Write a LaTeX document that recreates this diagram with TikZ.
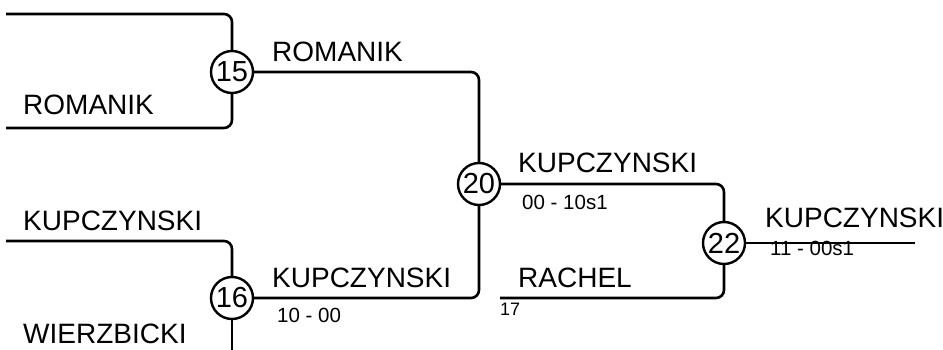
\documentclass[tikz,border=0pt]{standalone}
\usepackage{fontspec}
\setmainfont{Liberation Sans}
\tikzset{>=latex}
\tikzstyle{bline}=[line width=2.6pt,rounded corners=8pt]
\tikzstyle{mcircle}=[draw,circle,line width=2.4pt,minimum size=42pt,inner sep=0pt,font=\fontsize{29}{29}\selectfont]
\tikzstyle{player}=[anchor=base west,inner sep=0pt,font=\fontsize{28}{32}\selectfont]
\tikzstyle{result}=[anchor=base west,inner sep=0pt,font=\fontsize{20.5}{24}\selectfont]
\def\xa{232} % first round
\def\xb{479} % second round
\def\xc{724} % final

\begin{document}
\begin{tikzpicture}[x=1pt,y=-1pt]
  \useasboundingbox (0,0) rectangle (943,350);
  % matches
  \node[mcircle] (m15) at (\xa,72) {15};
  \node[mcircle] (m16) at (\xa,298) {16};
  \node[mcircle] (m20) at (\xb,184) {20};
  \node[mcircle] (m22) at (\xc,243) {22};
  % free ends
  \coordinate (e15a) at (6,14);
  \coordinate (e15b) at (6,128);
  \coordinate (e16a) at (6,241);
  \coordinate (e16b) at (\xa,352);
  \coordinate (e17) at (500,298);
  \coordinate (e22) at (915,243);
  % lines
  \draw[bline] (e15a) -| (m15);
  \draw[bline] (e15b) -| (m15);
  \draw[bline] (e16a) -| (m16);
  \draw[bline] (m16) -- (e16b);
  \draw[bline] (m15) -| (m20);
  \draw[bline] (m16) -| (m20);
  \draw[bline] (m20) -| (m22);
  \draw[bline] (e17) -| (m22);
  \draw[bline] (m22) -- (e22);
  % players
  \node[player] (p15a) at (272,62) {ROMANIK};
  \node[player] (p15b) at (23,115) {ROMANIK};
  \node[player] (p16a) at (23,230) {KUPCZYNSKI};
  \node[player] (p16b) at (23,343) {WIERZBICKI};
  \node[player] (p16) at (272,287) {KUPCZYNSKI};
  \node[player] (p20) at (518,173) {KUPCZYNSKI};
  \node[player] (p17) at (518,287) {RACHEL};
  \node[player] (p22) at (765,227) {KUPCZYNSKI};
  % results
  \node[result] (r16) at (277,322) {10 - 00};
  \node[result] (r20) at (522,209) {00 - 10s1};
  \node[result] (r22) at (770,255) {11 - 00s1};
  \node[result,font=\fontsize{18}{20}\selectfont] (r17) at (500,315) {17};
\end{tikzpicture}
\end{document}
